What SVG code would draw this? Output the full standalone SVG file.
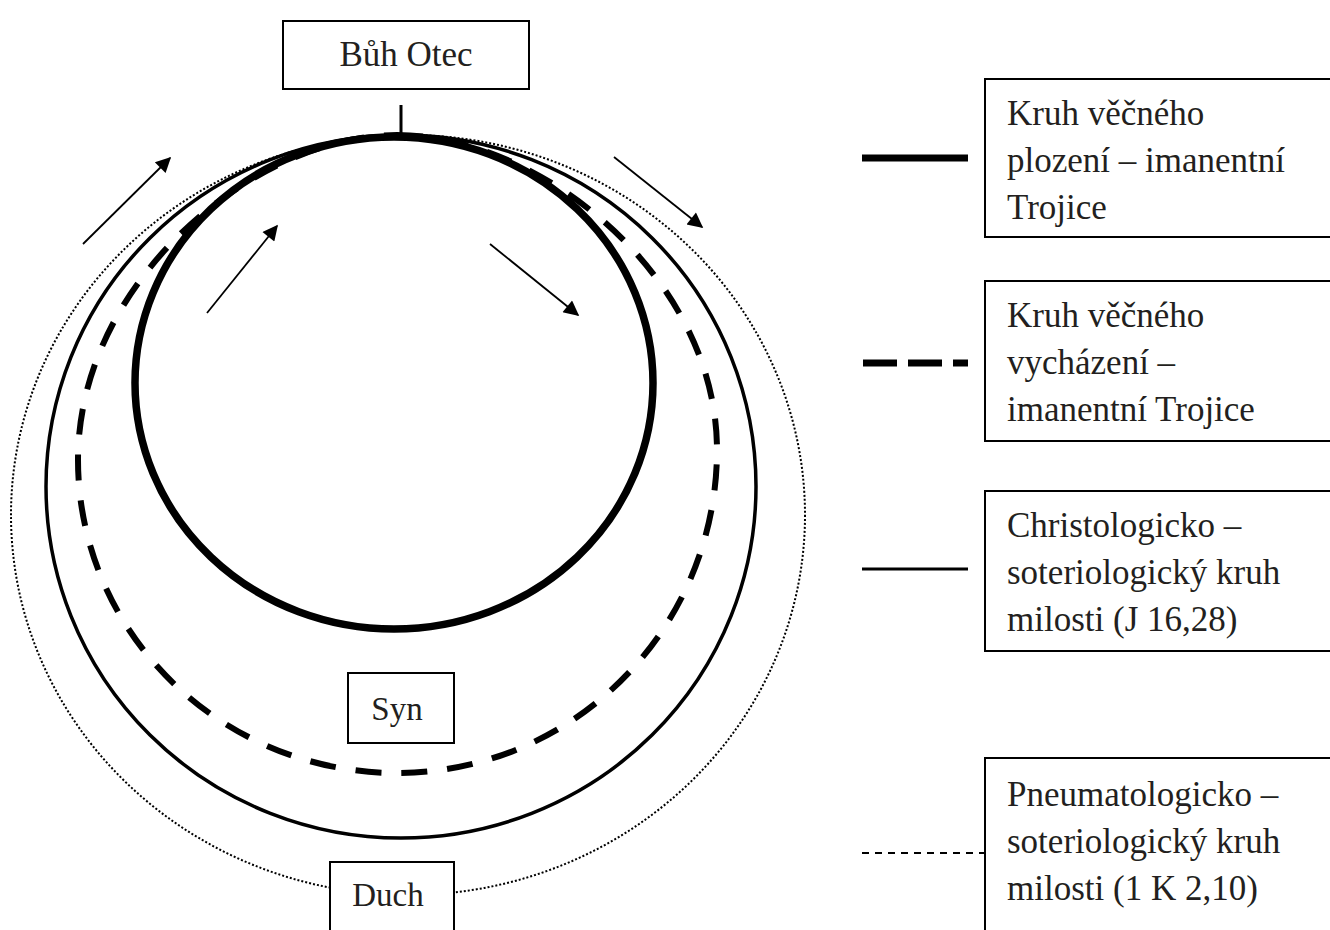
<svg xmlns="http://www.w3.org/2000/svg" width="1330" height="930" viewBox="0 0 1330 930">
<style>
text{font-family:"Liberation Serif","DejaVu Serif",serif;font-size:35px;fill:#231f20}
text.lbl{font-size:33px}
.box{fill:#fff;stroke:#000;stroke-width:2}
.thick{fill:none;stroke:#000;stroke-width:7.5}
.dash{fill:none;stroke:#000;stroke-width:6;stroke-dasharray:26 20}
.solid{fill:none;stroke:#000;stroke-width:3.5}
.dot{fill:none;stroke:#000;stroke-width:2;stroke-dasharray:2 2}
.arr{stroke:#000;stroke-width:1.8;marker-end:url(#ah)}
</style>
<defs>
<marker id="ah" viewBox="0 0 10 10" refX="9" refY="5" markerWidth="10" markerHeight="8.5" markerUnits="strokeWidth" orient="auto">
<path d="M0,0 L10,5 L0,10 z" fill="#000"/>
</marker>
</defs>
<rect width="1330" height="930" fill="#fff"/>
<g id="circles">
<ellipse class="dot" cx="408" cy="515" rx="397" ry="380"/>
<ellipse class="solid" cx="401" cy="486.5" rx="355" ry="351.5"/>
<path class="dash" d="M397,135 C539,135 717,276 717,450 A320,323 0 0 1 397,773 A319,313 0 0 1 78,460 C78,281 255,135 397,135 Z"/>
<ellipse class="thick" cx="394" cy="383" rx="259" ry="246"/>
</g>
<g id="connectors">
<line x1="401" y1="105" x2="401" y2="136" stroke="#000" stroke-width="3"/>
<line class="arr" x1="83" y1="244" x2="170" y2="158"/>
<line class="arr" x1="207" y1="313" x2="277" y2="226"/>
<line class="arr" x1="490" y1="244" x2="578" y2="315"/>
<line class="arr" x1="614" y1="157" x2="702" y2="227"/>
</g>
<g id="node-otec">
<rect class="box" x="283" y="21" width="246" height="68"/>
<text x="406" y="66" text-anchor="middle">Bůh Otec</text>
</g>
<g id="node-syn">
<rect class="box" x="348" y="673" width="106" height="70"/>
<text class="lbl" x="397" y="720" text-anchor="middle">Syn</text>
</g>
<g id="node-duch">
<rect class="box" x="330" y="862" width="124" height="80"/>
<text class="lbl" x="388" y="906" text-anchor="middle">Duch</text>
</g>
<g id="legend-1">
<line x1="862" y1="158" x2="968" y2="158" stroke="#000" stroke-width="7"/>
<rect class="box" x="985" y="79" width="360" height="158"/>
<text x="1007" y="125">Kruh věčného</text>
<text x="1007" y="172">plození – imanentní</text>
<text x="1007" y="219">Trojice</text>
</g>
<g id="legend-2">
<line x1="863" y1="363" x2="968" y2="363" stroke="#000" stroke-width="7" stroke-dasharray="34 11"/>
<rect class="box" x="985" y="281" width="360" height="160"/>
<text x="1007" y="327">Kruh věčného</text>
<text x="1007" y="374">vycházení –</text>
<text x="1007" y="421">imanentní Trojice</text>
</g>
<g id="legend-3">
<line x1="862" y1="569" x2="968" y2="569" stroke="#000" stroke-width="3"/>
<rect class="box" x="985" y="491" width="360" height="160"/>
<text x="1007" y="537">Christologicko –</text>
<text x="1007" y="584">soteriologický kruh</text>
<text x="1007" y="631">milosti (J 16,28)</text>
</g>
<g id="legend-4">
<line x1="862" y1="853" x2="985" y2="853" stroke="#000" stroke-width="2" stroke-dasharray="7 6"/>
<rect class="box" x="985" y="758" width="360" height="200"/>
<text x="1007" y="806">Pneumatologicko –</text>
<text x="1007" y="853">soteriologický kruh</text>
<text x="1007" y="900">milosti (1 K 2,10)</text>
</g>
</svg>
